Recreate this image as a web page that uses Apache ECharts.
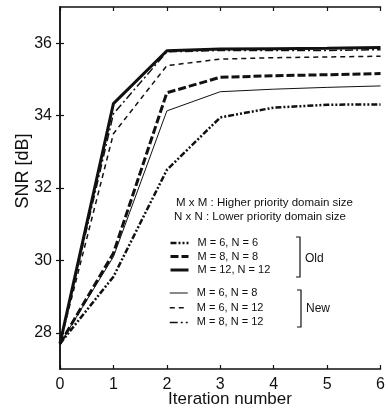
<!DOCTYPE html>
<html>
<head>
<meta charset="utf-8">
<script src="https://cdn.jsdelivr.net/npm/echarts@6/dist/echarts.min.js"></script>
<style>
  html, body { margin: 0; padding: 0; background: #fff; }
  #chart { width: 388px; height: 412px; }
</style>
</head>
<body>
<div id="chart"></div>
<script>
const iterations = [0, 1, 2, 3, 4, 5, 6];
const yTicks = [28, 30, 32, 34, 36];

// old method
const m6n6 = [27.7, 29.55, 32.5, 33.95, 34.22, 34.3, 34.31];
const m8n8 = [27.7, 30.2, 34.63, 35.06, 35.1, 35.13, 35.16];
const m12n12 = [27.7, 34.33, 35.79, 35.84, 35.85, 35.86, 35.88];
// new method
const m6n8 = [27.7, 30.1, 34.13, 34.66, 34.73, 34.78, 34.82];
const m6n12 = [27.7, 33.5, 35.38, 35.56, 35.6, 35.62, 35.64];
const m8n12 = [27.7, 34.05, 35.76, 35.8, 35.8, 35.8, 35.82];

const oldNames = ["M = 6, N = 6", "M = 8, N = 8", "M = 12, N = 12"];
const newNames = ["M = 6, N = 8", "M = 6, N = 12", "M = 8, N = 12"];

const font = "Liberation Sans, Arial, sans-serif";
const black = "#111";

// line looks, in series order
const styles = [
  { width: 2.5, type: [6, 2, 2, 2, 2, 2] },
  { width: 3, type: [8, 3] },
  { width: 3, type: "solid" },
  { width: 1, type: "solid" },
  { width: 1.5, type: [5, 4] },
  { width: 1.5, type: [8, 3, 2, 3] },
];

const pairs = (ys) => iterations.map((x, i) => [x, ys[i]]);

const line = (name, ys, st) => ({
  name: name,
  type: "line",
  data: pairs(ys),
  symbol: "none",
  lineStyle: { color: black, width: st.width, type: st.type },
  itemStyle: { color: black },
  z: 3,
});

const legendItems = (names, offset) =>
  names.map((n, i) => ({
    name: n,
    itemStyle: { opacity: 0 },
    lineStyle: { color: black, width: styles[offset + i].width, type: styles[offset + i].type },
  }));

const legendBase = {
  orient: "vertical",
  padding: 0,
  itemWidth: 18,
  itemHeight: 12,
  selectedMode: false,
  itemStyle: { opacity: 0 },
  textStyle: { fontFamily: font, fontSize: 11, color: black, lineHeight: 12, padding: [0, 0, 0, 4] },
};

const axisCommon = {
  axisLine: { show: true, lineStyle: { color: black, width: 1.5 } },
  axisTick: { show: true, inside: true, length: 4, lineStyle: { color: black, width: 1.2 } },
  splitLine: { show: false },
};

const myChart = echarts.init(document.getElementById("chart"), null, { renderer: "canvas" });

myChart.setOption({
  animation: false,
  grid: { left: 60, right: 5, top: 7, bottom: 43 },
  xAxis: [
    {
      type: "value",
      min: 0,
      max: 6,
      interval: 1,
      position: "bottom",
      ...axisCommon,
      axisLabel: { fontFamily: font, fontSize: 16, color: black, margin: 8 },
    },
    {
      type: "value",
      min: 0,
      max: 6,
      interval: 1,
      position: "top",
      ...axisCommon,
      axisLabel: { show: false },
    },
  ],
  yAxis: [
    {
      type: "value",
      min: 27,
      max: 37,
      position: "left",
      ...axisCommon,
      axisTick: { ...axisCommon.axisTick, customValues: yTicks },
      axisLabel: { fontFamily: font, fontSize: 16, color: black, margin: 8, customValues: yTicks },
    },
    {
      type: "value",
      min: 27,
      max: 37,
      position: "right",
      ...axisCommon,
      axisTick: { ...axisCommon.axisTick, customValues: yTicks },
      axisLabel: { show: false },
    },
  ],
  legend: [
    { ...legendBase, left: 169, top: 237, itemGap: 1.5, data: legendItems(oldNames, 0) },
    { ...legendBase, left: 169, top: 287, itemGap: 2.7, data: legendItems(newNames, 3) },
  ],
  series: [
    line(oldNames[0], m6n6, styles[0]),
    line(oldNames[1], m8n8, styles[1]),
    line(oldNames[2], m12n12, styles[2]),
    line(newNames[0], m6n8, styles[3]),
    line(newNames[1], m6n12, styles[4]),
    line(newNames[2], m8n12, styles[5]),
  ],
  graphic: [
    {
      type: "text",
      x: 23,
      y: 171,
      rotation: Math.PI / 2,
      style: { text: "SNR [dB]", font: "18px " + font, fill: black, align: "center", verticalAlign: "middle" },
    },
    {
      type: "text",
      x: 230,
      y: 399,
      style: { text: "Iteration number", font: "17px " + font, fill: black, align: "center", verticalAlign: "middle" },
    },
    {
      type: "text",
      x: 176,
      y: 203,
      style: { text: "M x M : Higher priority domain size", font: "11.5px " + font, fill: black, verticalAlign: "middle" },
    },
    {
      type: "text",
      x: 174,
      y: 217,
      style: { text: "N x N : Lower priority domain size", font: "11.5px " + font, fill: black, verticalAlign: "middle" },
    },
    {
      type: "polyline",
      shape: { points: [[296, 237], [300, 237], [300, 277], [296, 277]] },
      style: { stroke: black, lineWidth: 1.2, fill: null },
    },
    {
      type: "text",
      x: 305,
      y: 259,
      style: { text: "Old", font: "12px " + font, fill: black, verticalAlign: "middle" },
    },
    {
      type: "polyline",
      shape: { points: [[297, 290], [301, 290], [301, 327], [297, 327]] },
      style: { stroke: black, lineWidth: 1.2, fill: null },
    },
    {
      type: "text",
      x: 306,
      y: 309,
      style: { text: "New", font: "12px " + font, fill: black, verticalAlign: "middle" },
    },
  ],
});
</script>
</body>
</html>
